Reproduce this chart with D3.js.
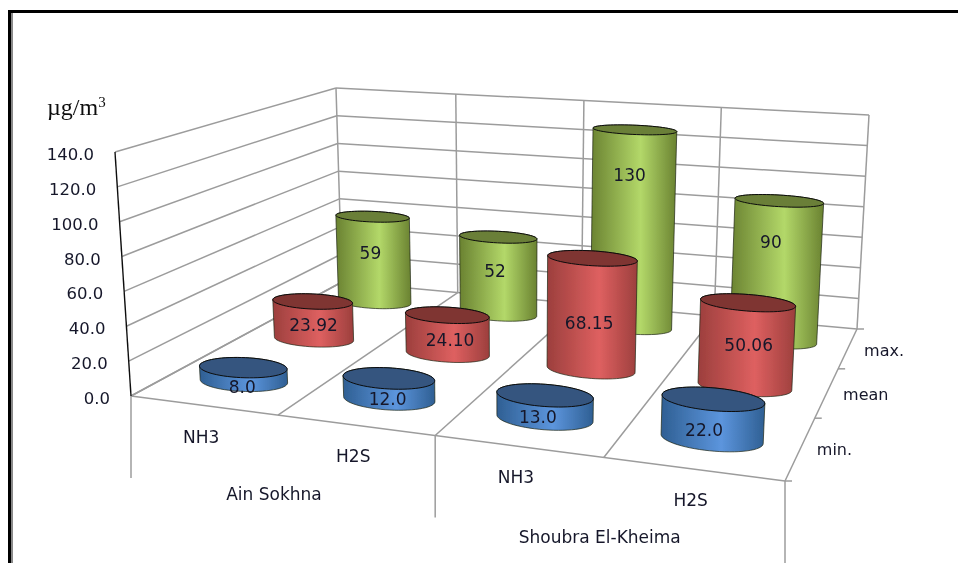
<!DOCTYPE html>
<html>
<head>
<meta charset="utf-8">
<script src="https://cdnjs.cloudflare.com/ajax/libs/d3/7.8.5/d3.min.js"></script>
<style>
  body { margin: 0; background: #fff; }
  text { font-family: "DejaVu Sans", sans-serif; font-size: 17px; fill: #16182a; }
</style>
</head>
<body>
<div id="chart"></div>
<script>
// values
const sites = ["Ain Sokhna", "Shoubra El-Kheima"];
const gases = ["NH3", "H2S", "NH3", "H2S"];
const seriesNames = ["min.", "mean", "max."];
const minValues = [8.0, 12.0, 13.0, 22.0];
const meanValues = [23.92, 24.10, 68.15, 50.06];
const maxValues = [59, 52, 130, 90];
const yTicks = [0, 20, 40, 60, 80, 100, 120, 140];

const width = 958, height = 563;

// corners of the chart box on screen: front-left, front-right, back-right, back-left
const floorQuad = [[131, 396], [785, 481], [857, 329], [342, 282]];
const roofQuad = [[115, 152], [797, 215], [869, 115], [336, 88]];
// foreshortening along the category and series directions
const warpU = 1.15, warpW = 0.71;

function warp(t, k) { return t / (t + k * (1 - t)); }

function onQuad(q, u, w) {
    var a = warp(u, warpU), b = warp(w, warpW);
    var fx = q[0][0] + (q[1][0] - q[0][0]) * a, fy = q[0][1] + (q[1][1] - q[0][1]) * a;
    var bx = q[3][0] + (q[2][0] - q[3][0]) * a, by = q[3][1] + (q[2][1] - q[3][1]) * a;
    return [fx + (bx - fx) * b, fy + (by - fy) * b];
}

const yScale = d3.scaleLinear().domain([0, 140]).range([0, 1]);
const uScale = d3.scaleBand().domain(d3.range(gases.length)).range([0, 1]);
const wScale = d3.scaleBand().domain(d3.range(seriesNames.length)).range([0, 1]);

function project(u, w, v) {
    var f = onQuad(floorQuad, u, w), r = onQuad(roofQuad, u, w), t = yScale(v);
    return [f[0] + (r[0] - f[0]) * t, f[1] + (r[1] - f[1]) * t];
}

const svg = d3.select("#chart").append("svg").attr("width", width).attr("height", height);
const defs = svg.append("defs");
const line = d3.line();
const closed = d3.line().curve(d3.curveLinearClosed);

// the source is a soft scan
defs.append("filter").attr("id", "soft").append("feGaussianBlur").attr("stdDeviation", 0.45);

// page frame of the scanned figure
svg.append("rect").attr("x", 8).attr("y", 10).attr("width", 950).attr("height", 3).attr("fill", "#000");
svg.append("rect").attr("x", 8).attr("y", 10).attr("width", 3).attr("height", 553).attr("fill", "#000");
svg.append("rect").attr("x", 11).attr("y", 13).attr("width", 2).attr("height", 550).attr("fill", "#8a8a8a");

const chart = svg.append("g").attr("filter", "url(#soft)");

// walls and floor
const grid = chart.append("g").attr("fill", "none").attr("stroke", "#9c9c9c").attr("stroke-width", 1.5);
function seg(a, b) { grid.append("path").attr("d", line([a, b])); }

yTicks.forEach(function (v) {
    seg(project(0, 0, v), project(0, 1, v));
    seg(project(0, 1, v), project(1, 1, v));
});
d3.range(gases.length + 1).forEach(function (i) {
    var u = i / gases.length;
    seg(project(u, 1, 0), project(u, 1, 140));
    seg(project(u, 0, 0), project(u, 1, 0));
});
seg(project(0, 0, 0), project(1, 0, 0));

// multi level axis drop lines
const dropLen = 82;
[0, 2, 4].forEach(function (i) {
    var p = project(i / gases.length, 0, 0);
    seg(p, [p[0], p[1] + dropLen]);
});

// series axis ticks
d3.range(seriesNames.length + 1).forEach(function (i) {
    var p = project(1, i / seriesNames.length, 0);
    seg(p, [p[0] + 7, p[1]]);
});

// value axis
chart.append("path").attr("d", line([project(0, 0, 0), project(0, 0, 140)]))
    .attr("stroke", "#111").attr("stroke-width", 1.4).attr("fill", "none");

// cylinders
const rowStyles = [
    { edge: "#2f5f93", mid: "#5c95dd", cap: "#34557f", values: minValues, fmt: function (d) { return d.toFixed(1); } },
    { edge: "#9c3f3d", mid: "#de6060", cap: "#7f3433", values: meanValues, fmt: function (d) { return d.toFixed(2); } },
    { edge: "#6a8231", mid: "#b3d869", cap: "#6a7f38", values: maxValues, fmt: function (d) { return String(d); } }
];
// where each label sits relative to the centre of the cylinder's top
const labelShift = [
    [[-1, 19], [-1, 21], [-7, 22], [-9, 31]],
    [[1, 24], [3, 25], [-3, 65], [1, 42]],
    [[-2, 36], [-3, 34], [-5, 45], [-8, 41]]
];
// front rows stand a little ahead of their band centre
const rowOffset = [-0.01, -0.02, 0];
const radiusU = 0.073, radiusW = 0.062;
const ring = d3.range(64).map(function (i) { return i / 64 * 2 * Math.PI; });

function circle(cu, cw, v) {
    return ring.map(function (a) {
        return project(cu + radiusU * Math.cos(a), cw + radiusW * Math.sin(a), v);
    });
}

const bars = chart.append("g");
const labels = chart.append("g").attr("text-anchor", "middle");

[2, 1, 0].forEach(function (r) {
    var style = rowStyles[r];
    var cw = wScale(r) + wScale.bandwidth() / 2 + rowOffset[r];
    style.values.forEach(function (v, c) {
        var cu = uScale(c) + uScale.bandwidth() / 2;
        var top = circle(cu, cw, v), bottom = circle(cu, cw, 0);
        var hull = d3.polygonHull(top.concat(bottom));
        var xs = d3.extent(hull, function (p) { return p[0]; });
        var id = "grad-" + r + "-" + c;
        var grad = defs.append("linearGradient").attr("id", id)
            .attr("gradientUnits", "userSpaceOnUse")
            .attr("x1", xs[0]).attr("x2", xs[1]).attr("y1", 0).attr("y2", 0);
        grad.append("stop").attr("offset", "0").attr("stop-color", style.edge);
        grad.append("stop").attr("offset", "0.58").attr("stop-color", style.mid);
        grad.append("stop").attr("offset", "1").attr("stop-color", style.edge);

        bars.append("path").attr("d", closed(hull))
            .attr("fill", "url(#" + id + ")")
            .attr("stroke", "#1c2412").attr("stroke-width", 0.7);
        bars.append("path").attr("d", closed(top))
            .attr("fill", style.cap)
            .attr("stroke", "#0c0c0c").attr("stroke-width", 1);

        var p = project(cu, cw, v);
        var s = labelShift[r][c];
        labels.append("text")
            .attr("x", p[0] + s[0]).attr("y", p[1] + s[1]).attr("dy", "0.36em")
            .text(style.fmt(v));
    });
});

// value axis labels
chart.append("g").attr("text-anchor", "end").selectAll("text").data(yTicks).join("text")
    .attr("x", function (d) { return project(0, 0, d)[0] - 21; })
    .attr("y", function (d) { return project(0, 0, d)[1] + 2; })
    .attr("dy", "0.36em")
    .style("font-size", "16.5px")
    .text(function (d) { return d.toFixed(1); });

// gas labels
chart.append("g").attr("text-anchor", "middle").selectAll("text").data(gases).join("text")
    .attr("x", function (d, i) { return project(uScale(i) + uScale.bandwidth() / 2, 0, 0)[0] - 2; })
    .attr("y", function (d, i) { return project(uScale(i) + uScale.bandwidth() / 2, 0, 0)[1] + 31; })
    .attr("dy", "0.36em")
    .text(function (d) { return d; });

// site labels
chart.append("g").attr("text-anchor", "middle").selectAll("text").data(sites).join("text")
    .attr("x", function (d, i) { return project((i * 2 + 1) / 4, 0, 0)[0] - 4; })
    .attr("y", function (d, i) { return project((i * 2 + 1) / 4, 0, 0)[1] + 79; })
    .attr("dy", "0.36em")
    .text(function (d) { return d; });

// series labels
chart.append("g").selectAll("text").data(seriesNames).join("text")
    .attr("x", function (d, i) { return project(1, wScale(i) + wScale.bandwidth() / 2, 0)[0] + 16; })
    .attr("y", function (d, i) { return project(1, wScale(i) + wScale.bandwidth() / 2, 0)[1] + 2; })
    .attr("dy", "0.36em")
    .style("font-size", "16px")
    .text(function (d) { return d; });

// unit
const unit = chart.append("text").attr("x", 47).attr("y", 115)
    .style("font-family", "'Liberation Serif', serif").style("font-size", "24px").style("fill", "#111")
    .text("µg/m");
unit.append("tspan").attr("dy", -8).style("font-size", "15px").text("3");
</script>
</body>
</html>
